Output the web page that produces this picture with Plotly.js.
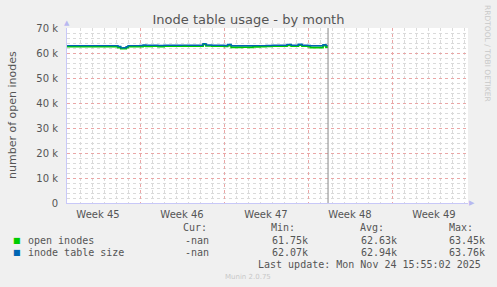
<!DOCTYPE html>
<html>
<head>
<meta charset="utf-8">
<script src="https://cdn.plot.ly/plotly-3.0.1.min.js"></script>
<style>html,body{margin:0;padding:0;background:#f0f0f0;}</style>
</head>
<body>
<div id="chart" style="width:497px;height:287px;"></div>
<script>
// Time in days since Monday 3 Nov 2025 00:00 (start of ISO week 45)
const days = [0.92,1.5,2,2.5,3,3.5,4,4.5,5,5.17,5.4,5.6,5.85,6,6.5,7,7.25,7.5,8,8.5,9,9.5,10,10.5,11,11.5,12,12.25,12.5,13,13.5,14,14.3,14.6,15,15.5,16,16.4,17,17.5,18,18.5,19,19.25,19.6,20,20.2,20.5,21,21.2,21.6,22,22.25,22.5,22.67];
const openInodes = [62550,62550,62550,62550,62550,62550,62550,62550,62550,62200,61750,61800,62200,62550,62600,62600,62800,62700,62750,62600,62750,62750,62800,62800,62750,62800,62800,63450,62850,62800,62750,62700,63000,62300,62300,62350,62300,62500,62600,62700,62800,62750,62800,63100,62800,62750,63200,62800,62600,62200,62200,62200,63000,62400,62400];
const tableSize = [62950,62950,62950,62950,62950,62950,62950,62950,62950,62600,62070,62100,62500,62950,62950,63000,63200,63100,63100,63000,63100,63100,63100,63150,63100,63100,63100,63760,63200,63100,63100,63000,63400,62900,62900,62900,62900,62950,62950,63000,63100,63100,63100,63450,63100,63100,63500,63100,63000,62900,62900,62900,63300,62950,62950];
const weekLabels = ["Week 45","Week 46","Week 47","Week 48","Week 49"];
const weekLabelPos = [3.5,10.5,17.5,24.5,31.5];
const weekStarts = [7,14,21,28];
const yTickVals = [0,10000,20000,30000,40000,50000,60000,70000];
const yTickText = ["0","10 k","20 k","30 k","40 k","50 k","60 k","70 k"];
const xRange = [0.9167,34.333];
const nowDay = 22.67;
const seriesNames = ["open inodes","inode table size"];
const seriesColors = ["#00cc00","#0066b3"];
const stats = {
  cur: ["-nan","-nan"],
  min: ["61.75k","62.07k"],
  avg: ["62.63k","62.94k"],
  max: ["63.45k","63.76k"]
};
const lastUpdate = "Last update: Mon Nov 24 15:55:02 2025";

// pixel -> paper conversion (plot area: x 67..468, y 28..203)
const L = 67, R = 468, T = 28, B = 203;
const px = x => (x - L) / (R - L);
const py = y => (B - y) / (B - T);

const mono = {family: "DejaVu Sans Mono", size: 10, color: "#555"};
const ann = [];
function txt(x, y, text, opts) {
  ann.push(Object.assign({xref: "paper", yref: "paper", x: px(x), y: py(y), text: text,
    showarrow: false, xanchor: "left", yanchor: "middle", font: mono}, opts || {}));
}
txt(181, 227, "Cur:");
txt(269, 227, "Min:");
txt(358, 227, "Avg:");
txt(447, 227, "Max:");
for (let i = 0; i < 2; i++) {
  const y = 240 + 12 * i;
  txt(17, y, "■", {xanchor: "center", font: {family: "DejaVu Sans", size: 8, color: seriesColors[i]}});
  txt(26, y, seriesNames[i]);
  txt(211, y, stats.cur[i], {xanchor: "right"});
  txt(270, y, stats.min[i]);
  txt(359, y, stats.avg[i]);
  txt(447, y, stats.max[i]);
}
txt(483, 264, lastUpdate, {xanchor: "right"});
txt(248, 277, "Munin 2.0.75", {xanchor: "center", font: {family: "DejaVu Sans", size: 7, color: "#c8c8c8"}});
txt(488, 53, "RRDTOOL / TOBI OETIKER", {xanchor: "center", textangle: 90, font: {family: "DejaVu Sans", size: 7.5, color: "#c8c8c8"}});
txt(12, 115, "number of open inodes", {xanchor: "center", textangle: -90, font: {family: "DejaVu Sans", size: 11, color: "#555"}});
// axis arrows
txt(67, 23, "▲", {xanchor: "center", font: {family: "DejaVu Sans", size: 7, color: "#b8b8f0"}});
txt(472, 203, "▶", {xanchor: "center", font: {family: "DejaVu Sans", size: 7, color: "#b8b8f0"}});

const traces = [
  {x: days, y: openInodes, type: "scatter", mode: "lines", name: seriesNames[0],
   line: {color: seriesColors[0], width: 1.8, shape: "hv"}, xaxis: "x", yaxis: "y"},
  {x: days, y: tableSize, type: "scatter", mode: "lines", name: seriesNames[1],
   line: {color: seriesColors[1], width: 1.3, shape: "hv"}, xaxis: "x", yaxis: "y"}
];

const layout = {
  width: 497, height: 287,
  margin: {l: L, r: 497 - R, t: T, b: 287 - B, pad: 0},
  paper_bgcolor: "#f0f0f0", plot_bgcolor: "#ffffff",
  showlegend: false,
  font: {family: "DejaVu Sans", size: 10, color: "#555"},
  title: {text: "Inode table usage - by month", font: {family: "DejaVu Sans", size: 13, color: "#555"},
          x: 0.5, xref: "container", xanchor: "center", y: 1 - 19/287, yref: "container", yanchor: "middle"},
  xaxis: {range: xRange, tickmode: "array", tickvals: weekStarts, showticklabels: false,
          showgrid: true, gridcolor: "#eaa6a6", griddash: "dot", gridwidth: 1,
          minor: {dtick: 1, tick0: 0, showgrid: true, gridcolor: "#dadada", griddash: "dot", gridwidth: 1},
          zeroline: false, showline: true, linecolor: "#c8c8f8", linewidth: 1, ticks: "", fixedrange: true},
  xaxis2: {range: xRange, overlaying: "x", anchor: "y", side: "bottom", tickmode: "array",
           tickvals: weekLabelPos, ticktext: weekLabels, showgrid: false, zeroline: false,
           showline: false, ticks: "", tickfont: {family: "DejaVu Sans", size: 10, color: "#555"}, ticklabelstandoff: 4},
  yaxis: {range: [0, 70000], tickmode: "array", tickvals: yTickVals, ticktext: yTickText,
          showgrid: true, gridcolor: "#eaa6a6", griddash: "dot", gridwidth: 1,
          minor: {dtick: 2000, tick0: 0, showgrid: true, gridcolor: "#dadada", griddash: "dot", gridwidth: 1},
          zeroline: false, showline: true, linecolor: "#c8c8f8", linewidth: 1, ticks: "",
          tickfont: {family: "DejaVu Sans", size: 10, color: "#555"}, ticklabelstandoff: 6},
  shapes: [{type: "line", xref: "x", yref: "paper", x0: nowDay, x1: nowDay, y0: 0, y1: 1,
            line: {color: "#888", width: 1}}],
  annotations: ann
};

// dummy trace so xaxis2 is drawn
traces.push({x: [xRange[0]], y: [null], type: "scatter", mode: "lines", xaxis: "x2", yaxis: "y", hoverinfo: "skip", showlegend: false});

Plotly.newPlot("chart", traces, layout, {displayModeBar: false, staticPlot: true});
</script>
</body>
</html>
